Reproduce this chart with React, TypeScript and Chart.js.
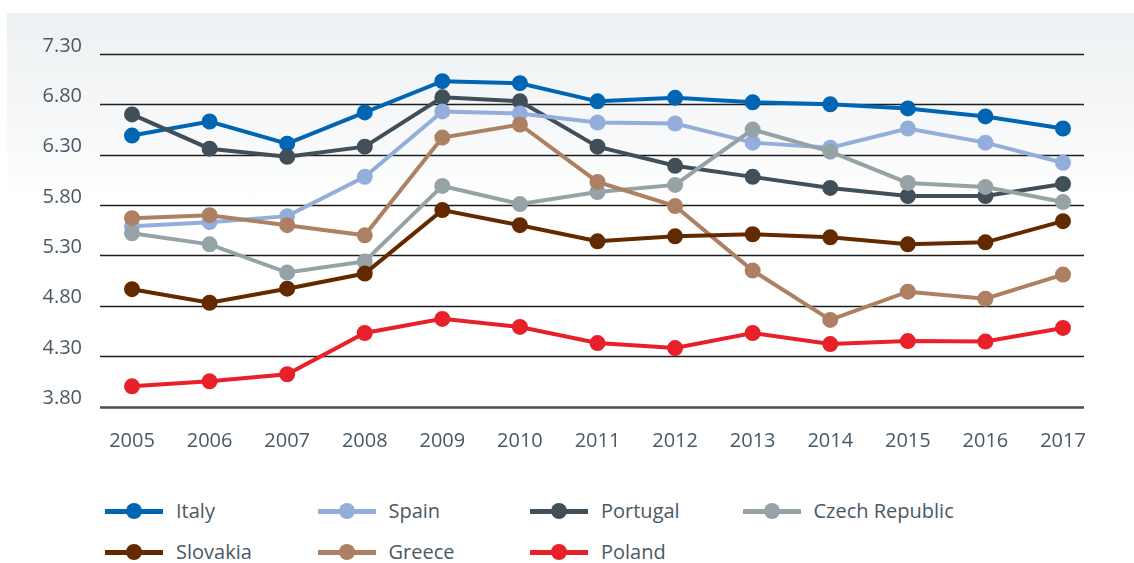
import React, { useEffect, useRef } from "react";
import { Chart, registerables } from "chart.js";

Chart.register(...registerables);

const years = ["2005", "2006", "2007", "2008", "2009", "2010", "2011", "2012", "2013", "2014", "2015", "2016", "2017"];
const yTicks = [3.8, 4.3, 4.8, 5.3, 5.8, 6.3, 6.8, 7.3];

const italy = [6.49, 6.63, 6.41, 6.72, 7.03, 7.01, 6.83, 6.865, 6.82, 6.8, 6.76, 6.68, 6.56];
const spain = [5.59, 5.63, 5.69, 6.08, 6.73, 6.71, 6.62, 6.61, 6.42, 6.37, 6.56, 6.42, 6.22];
const portugal = [6.7, 6.36, 6.28, 6.38, 6.87, 6.83, 6.38, 6.19, 6.08, 5.97, 5.89, 5.89, 6.01];
const czech = [5.52, 5.41, 5.13, 5.24, 5.99, 5.81, 5.93, 6.0, 6.55, 6.33, 6.02, 5.98, 5.83];
const slovakia = [4.965, 4.83, 4.97, 5.12, 5.75, 5.6, 5.44, 5.49, 5.51, 5.48, 5.41, 5.43, 5.64];
const greece = [5.67, 5.7, 5.6, 5.5, 6.47, 6.6, 6.03, 5.79, 5.15, 4.66, 4.94, 4.87, 5.11];
const poland = [4.0, 4.05, 4.12, 4.53, 4.67, 4.59, 4.43, 4.38, 4.53, 4.42, 4.45, 4.445, 4.58];

const seriesNames = ["Italy", "Spain", "Portugal", "Czech Republic", "Slovakia", "Greece", "Poland"];
const seriesValues = [italy, spain, portugal, czech, slovakia, greece, poland];
const seriesColors = ["#0066b3", "#94aedc", "#414f59", "#95a3a6", "#632a00", "#ad8063", "#e8202a"];
// draw order (later drawn on top): Italy & Portugal on top
const drawOrder = [0, 2, 1, 3, 5, 4, 6];

const FONT = "'Open Sans', 'Noto Sans', sans-serif";
const TEXT_COLOR = "#4a5864";

const gridPlugin = {
  id: "hgrid",
  beforeDatasetsDraw(chart: any) {
    const { ctx, chartArea, scales } = chart;
    const y = scales.y;
    ctx.save();
    y.ticks.forEach((t: any, i: number) => {
      const py = Math.round(y.getPixelForValue(t.value)) + 0.5;
      ctx.beginPath();
      ctx.strokeStyle = i === 0 ? "#4d4d4d" : "#1e1e1e";
      ctx.lineWidth = i === 0 ? 2.5 : 1.6;
      ctx.moveTo(chartArea.left - 32, py);
      ctx.lineTo(chartArea.right + 21, py);
      ctx.stroke();
    });
    ctx.restore();
  },
};

export default function App() {
  const ref = useRef<HTMLCanvasElement | null>(null);

  useEffect(() => {
    if (!ref.current) return;
    const chart = new Chart(ref.current, {
      type: "line",
      data: {
        labels: years,
        datasets: seriesNames.map((name, i) => ({
          label: name,
          data: seriesValues[i],
          borderColor: seriesColors[i],
          backgroundColor: seriesColors[i],
          pointBackgroundColor: seriesColors[i],
          pointBorderColor: seriesColors[i],
          borderWidth: 4,
          pointRadius: 7,
          pointBorderWidth: 2,
          tension: 0,
          fill: false,
          order: drawOrder.length - drawOrder.indexOf(i),
        })),
      },
      options: {
        animation: false,
        responsive: false,
        layout: { padding: { left: 0, right: 71, top: 54, bottom: 0 } },
        plugins: {
          legend: { display: false },
          tooltip: { enabled: false },
        },
        scales: {
          x: {
            type: "category",
            offset: false,
            grid: { display: false, drawTicks: false },
            border: { display: false },
            ticks: {
              color: TEXT_COLOR,
              font: { family: FONT, size: 20 },
              padding: 23,
              maxRotation: 0,
              autoSkip: false,
            },
            afterFit: (s: any) => {
              s.height = 63.5;
              s.paddingLeft = 0;
              s.paddingRight = 0;
            },
          },
          y: {
            type: "linear",
            min: 3.8,
            max: 7.3,
            afterBuildTicks: (s: any) => {
              s.ticks = yTicks.map((v) => ({ value: v }));
            },
            grid: { display: false, drawTicks: false },
            border: { display: false },
            ticks: {
              color: TEXT_COLOR,
              font: { family: FONT, size: 20 },
              padding: 50,
              labelOffset: -8,
              callback: (v: any) => Number(v).toFixed(2),
            },
            afterFit: (s: any) => {
              s.width = 132;
              s.paddingTop = 0;
              s.paddingBottom = 0;
            },
          },
        },
      },
      plugins: [gridPlugin],
    });
    return () => chart.destroy();
  }, []);

  return (
    <div style={{ position: "absolute", left: 0, top: 0, width: 1134, height: 563, background: "#ffffff", overflow: "hidden" }}>
      <div
        style={{
          position: "absolute",
          left: 7,
          top: 13,
          width: 1127,
          height: 200,
          background: "linear-gradient(180deg, #eef1f3 0px, #f4f6f7 90px, #ffffff 190px)",
        }}
      />
      <canvas ref={ref} width={1134} height={470} style={{ position: "absolute", left: 0, top: 0 }} />
      {seriesNames.map((name, i) => {
        const col = i < 4 ? i : i - 4;
        const row = i < 4 ? 0 : 1;
        const left = 105 + col * 212.5;
        const cy = 511 + row * 41;
        return (
          <div key={name} style={{ position: "absolute", left, top: cy - 15, height: 30, width: 210 }}>
            <div style={{ position: "absolute", left: 0, top: 13, width: 58, height: 5, background: seriesColors[i] }} />
            <div
              style={{
                position: "absolute",
                left: 21,
                top: 7,
                width: 16,
                height: 16,
                borderRadius: "50%",
                background: seriesColors[i],
              }}
            />
            <div
              style={{
                position: "absolute",
                left: 71,
                top: 0,
                lineHeight: "30px",
                fontFamily: FONT,
                fontSize: 20,
                color: TEXT_COLOR,
                whiteSpace: "nowrap",
              }}
            >
              {name}
            </div>
          </div>
        );
      })}
    </div>
  );
}
